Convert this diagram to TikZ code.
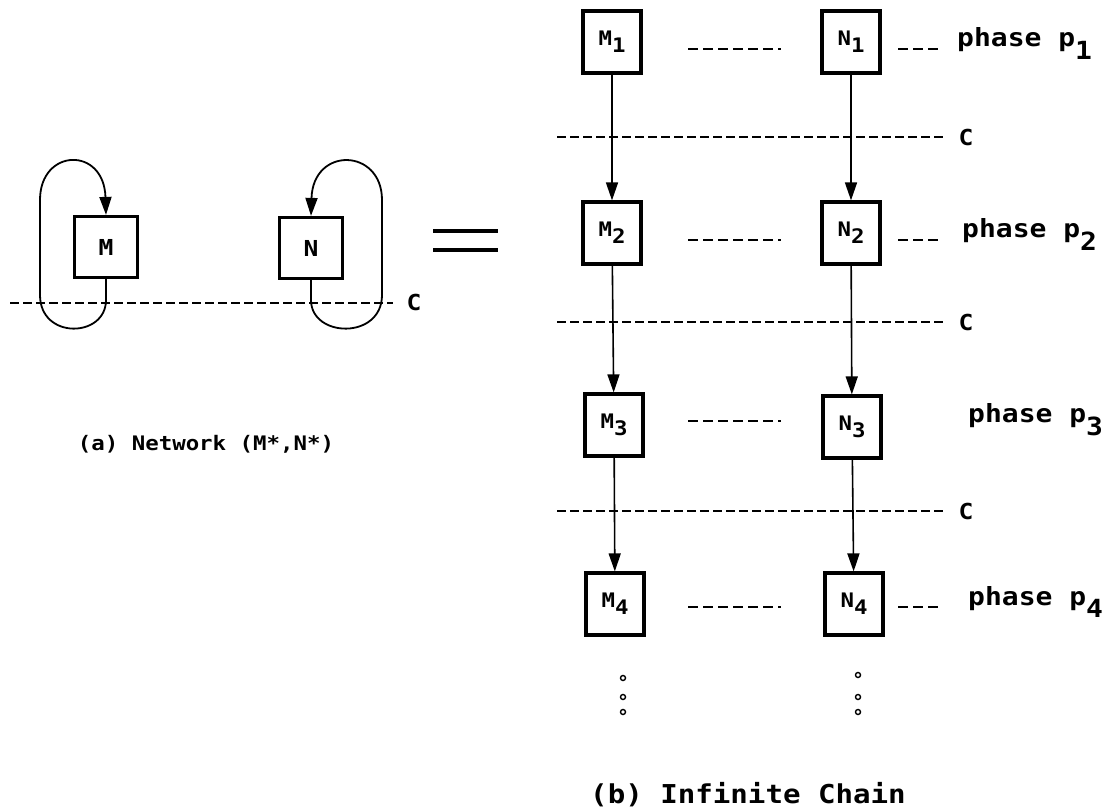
\documentclass[tikz,border=0pt]{standalone}
\usepackage{fontspec}
\newfontfamily\monofnt[FakeStretch=1.12]{DejaVu Sans Mono}
\usetikzlibrary{arrows.meta}
\newcommand\lowsub[2][-6pt]{\raisebox{#1}{#2}}
\tikzset{
  every picture/.style={x=1pt,y=-1pt},
  box/.style={draw, line width=3.2pt, minimum width=58pt, minimum height=62pt, inner sep=0pt,
    font=\monofnt\bfseries\fontsize{20}{20}\selectfont},
  lbox/.style={box, minimum width=63pt, minimum height=61pt, font=\monofnt\bfseries\fontsize{22}{22}\selectfont},
  conn/.style={line width=1.6pt, -{Triangle[width=12pt,length=18pt]}},
  loopline/.style={line width=1.8pt, -{Triangle[width=12pt,length=18pt]}},
  cut/.style={line width=1.6pt, dash pattern=on 9pt off 4pt},
  rowdash/.style={line width=1.8pt, dash pattern=on 10pt off 5pt},
  phaselbl/.style={anchor=west, inner sep=0pt, font=\monofnt\bfseries\fontsize{25}{25}\selectfont},
  clbl/.style={inner sep=0pt, font=\monofnt\bfseries\fontsize{22}{22}\selectfont},
  caption/.style={inner sep=0pt, font=\monofnt\bfseries\fontsize{26}{26}\selectfont},
  dot/.style={circle, draw, line width=1.4pt, minimum size=5pt, inner sep=0pt},
}
\begin{document}
\begin{tikzpicture}
\useasboundingbox (0,0) rectangle (1114,810);
% ---------- left: network ----------
\node[lbox] (M) at (106,247) {M};
\node[lbox] (N) at (311,248) {N};
\coordinate (cl0) at (10,303);
\coordinate (cl1) at (393,303);
\draw[cut] (cl0) -- (cl1);
\node[clbl] (Cl) at (414,302) {C};
\draw[loopline] (M.south) -- (106,300) .. controls (106,338) and (40,340) .. (40,295)
   -- (40,200) .. controls (40,148) and (104,146) .. (M.north);
\draw[loopline] (N.south) -- (311,300) .. controls (311,338) and (382,340) .. (382,295)
   -- (382,200) .. controls (382,148) and (313,146) .. (N.north);
% equals sign
\coordinate (e1a) at (433,231); \coordinate (e1b) at (498,231);
\coordinate (e2a) at (433,250); \coordinate (e2b) at (498,250);
\draw[line width=4.5pt] (e1a) -- (e1b);
\draw[line width=4.5pt] (e2a) -- (e2b);
\node[caption, font=\monofnt\bfseries\fontsize{20}{20}\selectfont] (capa) at (206,444) {(a) Network (M*,N*)};
% ---------- right: infinite chain ----------
\newcommand\bsub[1]{\lowsub[-7pt]{#1}}
\node[box] (M1) at (612,42)  {M\bsub{1}};
\node[box] (N1) at (851,42)  {N\bsub{1}};
\node[box] (M2) at (612,233) {M\bsub{2}};
\node[box] (N2) at (851,233) {N\bsub{2}};
\node[box] (M3) at (614,425) {M\bsub{3}};
\node[box] (N3) at (852,427) {N\bsub{3}};
\node[box] (M4) at (615,604) {M\bsub{4}};
\node[box] (N4) at (854,604) {N\bsub{4}};
\draw[conn] (M1) -- (M2);
\draw[conn] (N1) -- (N2);
\draw[conn] (M2) -- (M3);
\draw[conn] (N2) -- (N3);
\draw[conn] (M3) -- (M4);
\draw[conn] (N3) -- (N4);
% cut lines
\foreach \y/\i in {137/1,322/2,511/3}{
  \coordinate (c\i a) at (557,\y);
  \coordinate (c\i b) at (944,\y);
  \draw[cut] (c\i a) -- (c\i b);
  \node[clbl] (C\i) at (966,\y) {C};
}
% row dashes
\foreach \y/\i in {49/1,240/2,421/3,607/4}{
  \coordinate (d\i a) at (688,\y);
  \coordinate (d\i b) at (781,\y);
  \draw[rowdash] (d\i a) -- (d\i b);
}
\foreach \y/\i in {49/1,240/2,607/4}{
  \coordinate (f\i a) at (898,\y);
  \coordinate (f\i b) at (942,\y);
  \draw[rowdash] (f\i a) -- (f\i b);
}
\node[phaselbl] (P1) at (957,44)  {phase p\lowsub[-13pt]{1}};
\node[phaselbl] (P2) at (962,235) {phase p\lowsub[-13pt]{2}};
\node[phaselbl] (P3) at (968,420) {phase p\lowsub[-13pt]{3}};
\node[phaselbl] (P4) at (968,602) {phase p\lowsub[-13pt]{4}};
% continuation dots
\foreach \y/\i in {678/1,697/2,712/3}{
  \node[dot] (dm\i) at (623,\y) {};
}
\foreach \y/\i in {675/1,697/2,712/3}{
  \node[dot] (dn\i) at (858,\y) {};
}
\node[caption] (capb) at (748,795) {(b) Infinite Chain};
\end{tikzpicture}
\end{document}
